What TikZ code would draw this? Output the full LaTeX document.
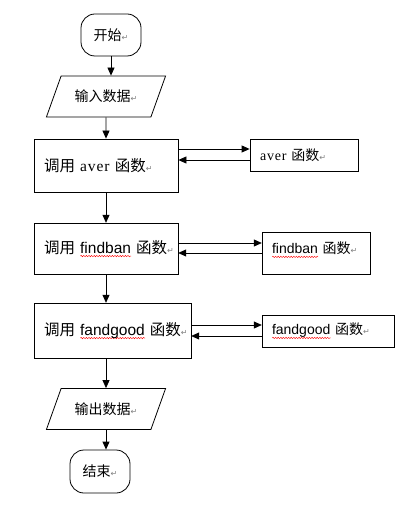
\documentclass[tikz,border=0pt]{standalone}
\usepackage{fontspec}
\setmainfont{Noto Sans CJK SC}
\newfontfamily\latinserif{Liberation Serif}[LetterSpace=6]
\newfontfamily\latinsans{Liberation Sans}
\newfontfamily\symfont{DejaVu Sans}
\usetikzlibrary{arrows.meta,shapes.geometric,calc,decorations.pathmorphing}
\newcommand\parmark{{\symfont\fontsize{8}{8}\selectfont\color{gray}↵}}
\newsavebox\typobox
\newlength\typowd
\newcommand\typo[1]{%
    \sbox\typobox{\latinsans #1}\setlength\typowd{\wd\typobox}%
    \rlap{\tikz[baseline=0pt]\draw[red, line width=0.4pt, decorate, decoration={snake, amplitude=0.7pt, segment length=2.6pt}] (0pt,-3pt) -- (\typowd,-3pt);}%
    \usebox\typobox}
\tikzset{
    terminal/.style = {
        draw,
        rounded corners=14pt,
        minimum width=60pt,
        minimum height=42pt,
        font=\fontsize{14}{16}\selectfont,
        },
    io/.style = {
        draw,
        trapezium,
        trapezium left angle=60,
        trapezium right angle=120,
        trapezium stretches=true,
        minimum width=120pt,
        minimum height=41pt,
        font=\fontsize{14}{16}\selectfont,
        },
    call/.style = {
        draw,
        align=left,
        inner xsep=10pt,
        font=\fontsize{15.5}{18}\selectfont,
        },
    func/.style = {
        draw,
        align=left,
        inner xsep=10pt,
        font=\fontsize{14}{16}\selectfont,
        },
    flow/.style = {
        -{Triangle[length=8pt,width=7pt]},
        },
}
\begin{document}
\begin{tikzpicture}[x=1pt, y=-1pt, line width=0.8pt]
    \useasboundingbox (0,0) rectangle (402,518);

    % main column
    \node [terminal] (start) at (111,35) {开始\parmark};
    \node [io] (in) at (106,96.5) {输入数据\parmark};
    \node [call, text width=124pt, minimum height=53pt] (b1) at (106,165.5) {\mbox{调用 {\latinserif aver} 函数\parmark}};
    \node [call, text width=124pt, minimum height=51pt] (b2) at (106,248.5) {\mbox{调用 \typo{findban} 函数\parmark}};
    \node [call, text width=137pt, minimum height=55pt] (b3) at (112.5,330.5) {\mbox{调用 \typo{fandgood} 函数\parmark}};
    \node [io] (out) at (106,409) {输出数据\parmark};
    \node [terminal, minimum height=43pt] (end) at (100,471.5) {结束\parmark};

    % functions
    \node [func, text width=88pt, minimum height=32pt] (f1) at (304,155) {{\latinserif aver} 函数\parmark};
    \node [func, text width=88pt, minimum height=42pt, text depth=10pt] (f2) at (316,253) {\mbox{\typo{findban} 函数\parmark}};
    \node [func, text width=112pt, minimum height=32pt] (f3) at (328,331) {\mbox{\typo{fandgood} 函数\parmark}};

    \draw[flow] (start.south) -- (start.south |- in.north);
    \draw[flow] (in.south) -- (b1.north);
    \draw[flow] (b1.south) -- (b2.north);
    \draw[flow] (b2.south) -- (b2.south |- b3.north);
    \draw[flow] (out.north |- b3.south) -- (out.north);
    \draw[flow] (out.south) -- (out.south |- end.north);

    \coordinate (f1a) at ($(f1.west)+(0,-6)$);
    \coordinate (f1b) at ($(f1.west)+(0,5)$);
    \coordinate (f2a) at ($(f2.west)+(0,-10)$);
    \coordinate (f2b) at ($(f2.west)+(0,0)$);
    \coordinate (f3a) at ($(f3.west)+(0,-6)$);
    \coordinate (f3b) at ($(f3.west)+(0,5)$);

    \draw[flow] (b1.east |- f1a) -- (f1a);
    \draw[flow] (f1b) -- (b1.east |- f1b);
    \draw[flow] (b2.east |- f2a) -- (f2a);
    \draw[flow] (f2b) -- (b2.east |- f2b);
    \draw[flow] (b3.east |- f3a) -- (f3a);
    \draw[flow] (f3b) -- (b3.east |- f3b);
\end{tikzpicture}
\end{document}
